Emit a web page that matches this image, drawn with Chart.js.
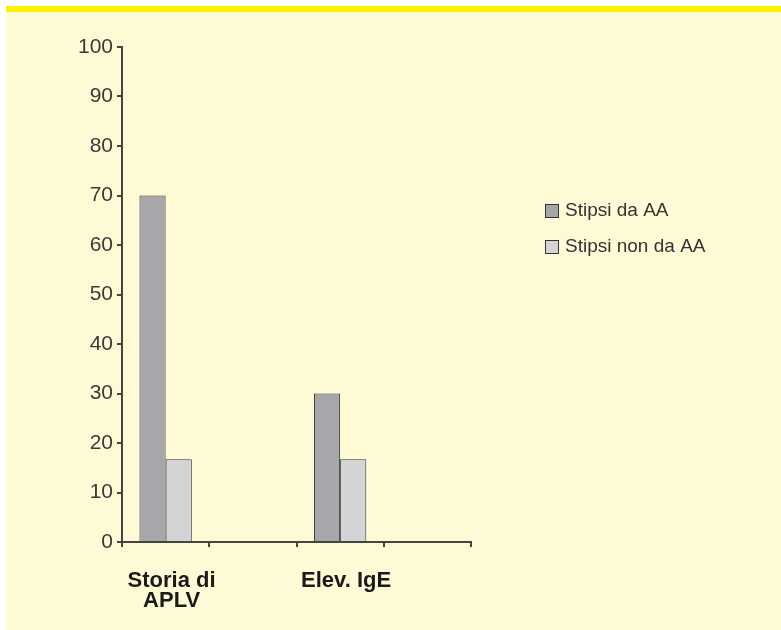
<!DOCTYPE html>
<html>
<head>
<meta charset="utf-8">
<script src="https://cdn.jsdelivr.net/npm/chart.js@4/dist/chart.umd.min.js"></script>
<style>
body { margin: 0; background: #ffffff; }
#box {
    position: absolute; left: 6px; top: 6px; width: 775px; height: 618px;
    border-top: 6px solid #fff200; background: #fffad6;
}
</style>
</head>
<body>
<div id="box"><canvas id="chart" width="775" height="618"></canvas></div>
<script>
// data
const categories = [['Storia di', 'APLV'], '', 'Elev. IgE', '']
const stipsiDaAA = [70, null, 30, null]
const stipsiNonDaAA = [16.7, null, 16.7, null]
const seriesNames = ['Stipsi da AA', 'Stipsi non da AA']
const yTicks = [0, 10, 20, 30, 40, 50, 60, 70, 80, 90, 100]

const colors = ['#a6a6ab', '#d4d4d7']

// legend drawn by hand to sit where the original has it
const sideLegend = {
    id: 'sideLegend',
    afterDraw(chart) {
        const ctx = chart.ctx
        const x = chart.chartArea.right + 74
        let y = chart.chartArea.top + 164
        ctx.save()
        ctx.font = '19px "Liberation Sans", Arial, sans-serif'
        ctx.textBaseline = 'middle'
        chart.data.datasets.forEach(ds => {
            ctx.fillStyle = ds.backgroundColor
            ctx.fillRect(x, y - 7, 14, 14)
            ctx.strokeStyle = '#333'
            ctx.lineWidth = 1
            ctx.strokeRect(x + 0.5, y - 6.5, 13, 13)
            ctx.fillStyle = '#333'
            ctx.fillText(ds.label, x + 20, y)
            y += 36
        })
        ctx.restore()
    }
}

new Chart(document.querySelector('#chart'), {
    type: 'bar',
    data: {
        labels: categories,
        datasets: [
            { label: seriesNames[0], data: stipsiDaAA, backgroundColor: colors[0], borderColor: '#333', borderWidth: 1 },
            { label: seriesNames[1], data: stipsiNonDaAA, backgroundColor: colors[1], borderColor: '#333', borderWidth: 1 }
        ]
    },
    options: {
        responsive: false,
        animation: false,
        layout: { padding: { left: 66, right: 310, top: 35, bottom: 18 } },
        categoryPercentage: 0.6,
        barPercentage: 1,
        plugins: {
            legend: { display: false },
            tooltip: { enabled: false }
        },
        scales: {
            x: {
                afterFit: scale => { scale.height = 70 },
                grid: { offset: true, drawOnChartArea: false, drawTicks: true, tickLength: 5, color: '#444', lineWidth: 2 },
                border: { color: '#444', width: 2 },
                ticks: {
                    color: '#1a1a1a',
                    padding: 24,
                    labelOffset: 6,
                    maxRotation: 0,
                    autoSkip: false,
                    font: { family: '"Liberation Sans", Arial, sans-serif', size: 22, weight: 'bold', lineHeight: 0.9 }
                }
            },
            y: {
                min: 0,
                max: 100,
                afterBuildTicks: scale => { scale.ticks = yTicks.map(v => ({ value: v })) },
                afterFit: scale => { scale.width = 50 },
                grid: { drawOnChartArea: false, drawTicks: true, tickLength: 5, color: '#444', lineWidth: 2 },
                border: { color: '#444', width: 2 },
                ticks: {
                    color: '#3a3a3a',
                    padding: 4,
                    font: { family: '"Liberation Sans", Arial, sans-serif', size: 21 }
                }
            }
        }
    },
    plugins: [sideLegend]
})
</script>
</body>
</html>
